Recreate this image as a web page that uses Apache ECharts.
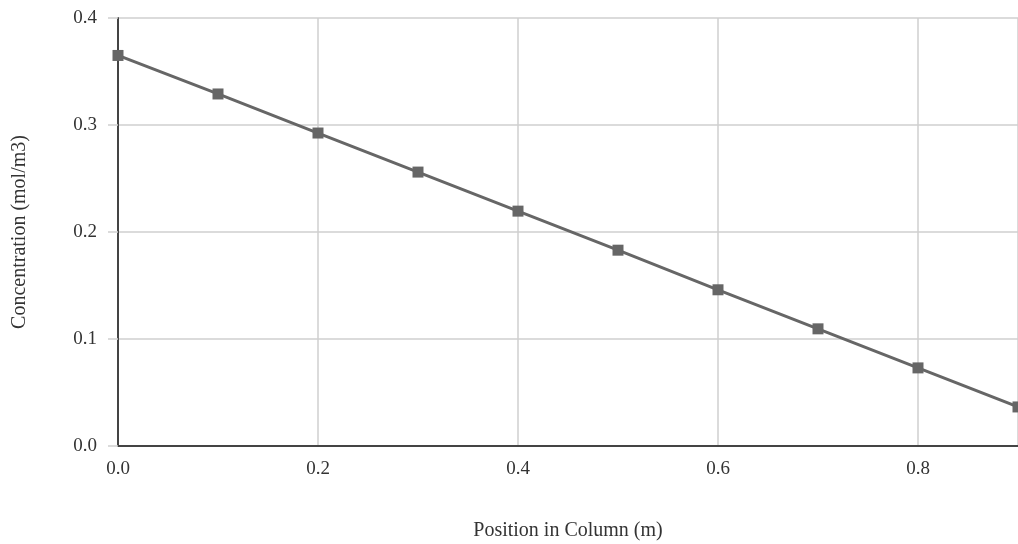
<!DOCTYPE html>
<html>
<head>
<meta charset="utf-8">
<script src="https://cdn.jsdelivr.net/npm/echarts@6/dist/echarts.min.js"></script>
<style>
  html, body { margin: 0; padding: 0; background: #fff; }
  #chart { width: 1018px; height: 544px; }
</style>
</head>
<body>
<div id="chart"></div>
<script>
// position along the column (m) and concentration (mol/m3)
var positions = [0.0, 0.1, 0.2, 0.3, 0.4, 0.5, 0.6, 0.7, 0.8, 0.9];
var concentrations = [0.365, 0.329, 0.2925, 0.256, 0.2195, 0.183, 0.146, 0.1095, 0.073, 0.0365];

var font = "'Liberation Serif', serif";
var chart = echarts.init(document.getElementById("chart"));

var points = [];
for (var i = 0; i < positions.length; i++) {
  points.push([positions[i], concentrations[i]]);
}

chart.setOption({
  animation: false,
  grid: { left: 118, right: 0, top: 18, bottom: 98, outerBoundsMode: "none", containLabel: false },
  xAxis: {
    type: "value",
    min: 0,
    max: 0.9,
    interval: 0.2,
    name: "Position in Column (m)",
    nameLocation: "middle",
    nameGap: 75,
    nameTextStyle: { fontFamily: font, fontSize: 20, color: "#333" },
    axisLine: { show: true, lineStyle: { color: "#444", width: 2 } },
    axisTick: { show: false },
    axisLabel: {
      fontFamily: font, fontSize: 19, color: "#333", margin: 14,
      showMaxLabel: false,
      formatter: function (v) { return v.toFixed(1); }
    },
    splitLine: { show: true, lineStyle: { color: "#cfcfcf", width: 1.5 } }
  },
  yAxis: {
    type: "value",
    min: 0,
    max: 0.4,
    interval: 0.1,
    name: "Concentration (mol/m3)",
    nameLocation: "middle",
    nameGap: 88,
    nameRotate: 90,
    nameTextStyle: { fontFamily: font, fontSize: 20, color: "#333" },
    axisLine: { show: true, lineStyle: { color: "#444", width: 2 } },
    axisTick: { show: true, length: 10, lineStyle: { color: "#cfcfcf", width: 1.5 } },
    axisLabel: {
      fontFamily: font, fontSize: 19, color: "#333", margin: 21,
      formatter: function (v) { return v.toFixed(1); }
    },
    splitLine: { show: true, lineStyle: { color: "#cfcfcf", width: 1.5 } }
  },
  series: [{
    type: "line",
    data: points,
    symbol: "rect",
    symbolSize: 11,
    clip: false,
    lineStyle: { color: "#666", width: 3 },
    itemStyle: { color: "#666" }
  }]
});
</script>
</body>
</html>
